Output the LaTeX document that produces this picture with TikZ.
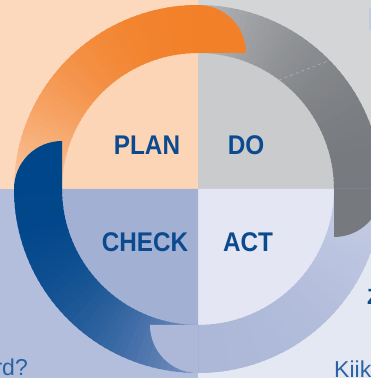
\documentclass[tikz,border=0pt]{standalone}
\usepackage{fontspec}
\setmainfont{Liberation Sans}
\newfontfamily\labfont[FakeStretch=0.9]{Liberation Sans}
\definecolor{bgTL}{HTML}{FCD9BC}
\definecolor{bgTR}{HTML}{D4D5D7}
\definecolor{bgBL}{HTML}{B3BDDC}
\definecolor{bgBR}{HTML}{E4E8F3}
\definecolor{inTL}{HTML}{FBD5B6}
\definecolor{inTR}{HTML}{CACBCD}
\definecolor{inBL}{HTML}{A2B1D3}
\definecolor{inBR}{HTML}{E4E7F3}
\definecolor{oL}{HTML}{FAC7A1}
\definecolor{oD}{HTML}{F28029}
\definecolor{gL}{HTML}{B4B5B8}
\definecolor{gD}{HTML}{76797D}
\definecolor{lL}{HTML}{C8CFE6}
\definecolor{lD}{HTML}{ADB8D8}
\definecolor{bL}{HTML}{7990C0}
\definecolor{bD}{HTML}{00468A}
\definecolor{txt}{HTML}{0B4A8E}
\definecolor{txtb}{HTML}{2A62A3}
\newcommand\gradarc[4]{%
  \foreach \i in {0,...,44}{%
    \pgfmathsetmacro\aa{#1+(#2-#1)*\i/45}%
    \pgfmathsetmacro\bb{#1+(#2-#1)*min(\i+1.4,45)/45}%
    \pgfmathtruncatemacro\pp{100*(1-(1-\i/44)^2)}%
    \fill[#4!\pp!#3] (\aa:184) arc[start angle=\aa, end angle=\bb, radius=184pt]
      -- (\bb:136) arc[start angle=\bb, end angle=\aa, radius=136pt] -- cycle;
  }}
\tikzset{
  lab/.style={text=txt, font=\labfont\fontsize{27}{30}\selectfont\bfseries, inner sep=0pt},
  side/.style={text=txtb, font=\fontsize{23}{27}\selectfont, inner sep=0pt},
}
\begin{document}
\begin{tikzpicture}[x=1pt,y=1pt]
\useasboundingbox (0,0) rectangle (371,378);
% background quadrants
\fill[bgTL] (0,189) rectangle (198,378);
\fill[bgTR] (198,189) rectangle (371,378);
\fill[bgBL] (0,0) rectangle (198,189);
\fill[bgBR] (198,0) rectangle (371,189);
\fill[bgBL!80!white] (369,348) rectangle (371,370);
% inner circle quadrants
\begin{scope}[shift={(198,189)}]
\fill[inTL] (0,0) -- (180:136) arc[start angle=180, end angle=90, radius=136pt] -- cycle;
\fill[inTR] (0,0) -- (90:136) arc[start angle=90, end angle=0, radius=136pt] -- cycle;
\fill[inBR] (0,0) -- (0:136) arc[start angle=0, end angle=-90, radius=136pt] -- cycle;
\fill[inBL] (0,0) -- (-90:136) arc[start angle=-90, end angle=-180, radius=136pt] -- cycle;
% ring arcs
\gradarc{180}{90}{oL}{oD}
\gradarc{90}{0}{gL}{gD}
\gradarc{0}{-90}{lL}{lD}
\gradarc{-90}{-180}{bL}{bD}
\end{scope}
% caps
\fill[oD] (198,325) -- (198,373) arc[start angle=90, end angle=0, radius=48pt] -- cycle;
\fill[gD] (334,189) -- (382,189) arc[start angle=0, end angle=-90, radius=48pt] -- cycle;
\fill[lD] (198,53) -- (198,5) arc[start angle=270, end angle=180, radius=48pt] -- cycle;
\fill[bD] (62,189) -- (62,237) arc[start angle=90, end angle=180, radius=48pt] -- cycle;
% faint seam in grey arc
\draw[white, opacity=0.45, dashed, line width=0.4pt] (279,298) -- (328,317);
% labels
\node[lab] (plan) at (147,233) {PLAN};
\node[lab] (do) at (246,233) {DO};
\node[lab] (check) at (145,136) {CHECK};
\node[lab] (act) at (248,136) {ACT};
\node[side, anchor=base east] (rd) at (28,2) {rd?};
\node[side, anchor=base west] (kiik) at (334,0.5) {Kiik};
\node[side, anchor=base west, text=txt, font=\fontsize{22}{26}\selectfont\bfseries] (zz) at (367,73) {Z};
\end{tikzpicture}
\end{document}
